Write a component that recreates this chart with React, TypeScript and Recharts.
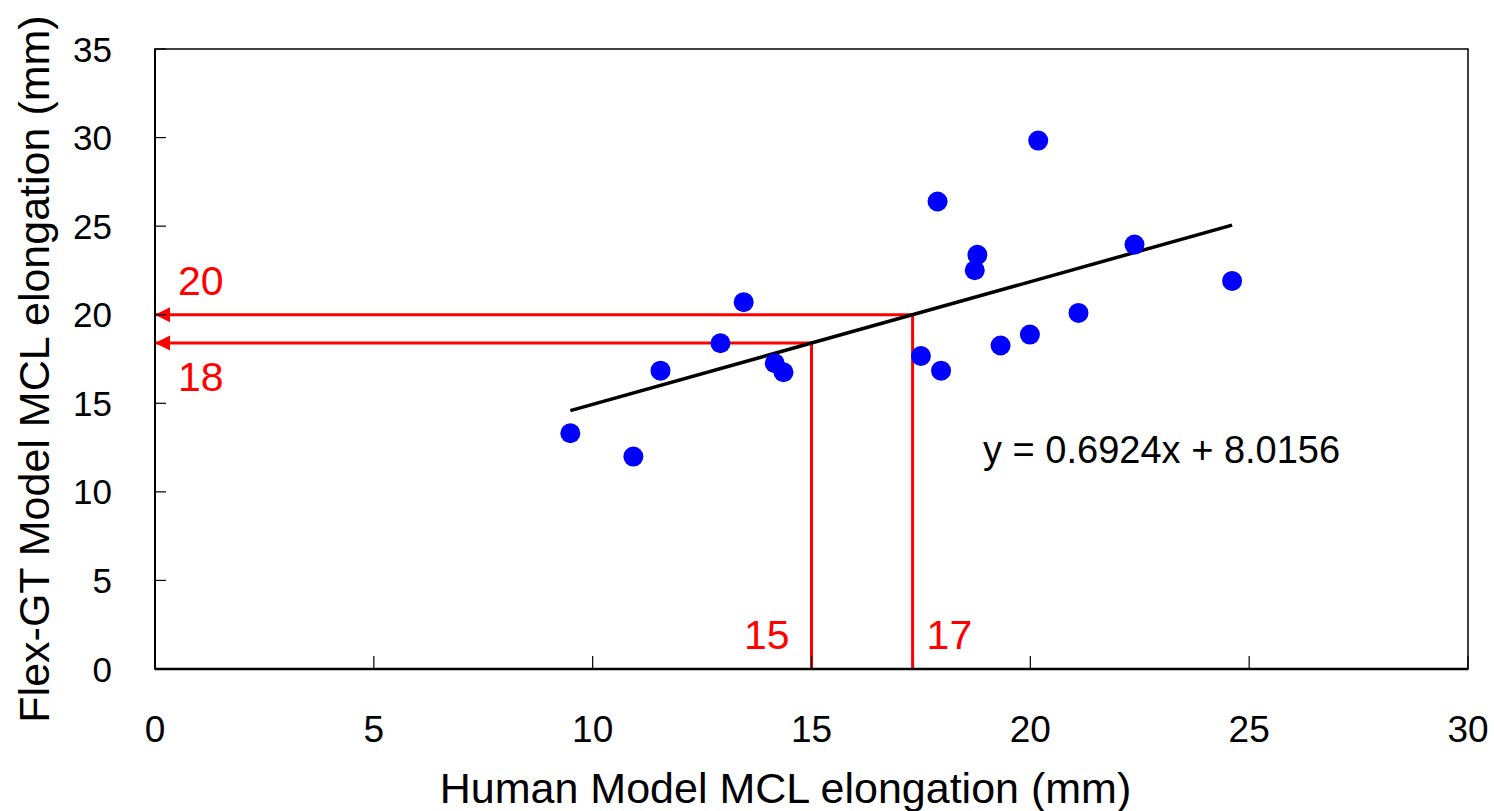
import React from "react";
import {
  ScatterChart,
  Scatter,
  XAxis,
  YAxis,
  ReferenceLine,
  ReferenceArea,
  Label
} from "recharts";

// measured elongations (mm)
const humanElongation = [9.49, 10.93, 11.55, 12.92, 13.45, 14.16, 14.36, 17.5, 17.88, 17.96, 18.79, 18.73, 19.32, 19.99, 20.18, 21.1, 22.38, 24.61];
const flexElongation = [13.31, 11.99, 16.84, 18.39, 20.71, 17.26, 16.75, 17.67, 26.39, 16.84, 23.38, 22.51, 18.26, 18.88, 29.83, 20.1, 23.96, 21.91];

// regression y = 0.6924x + 8.0156
const slope = 0.6924;
const intercept = 8.0156;
const equationText = "y = 0.6924x + 8.0156";
const equationAt = { x: 18.92, y: 12.37 };

// read-off lines on the regression
const readX = [15, 17.31];
const readY = [18.4, 20];
const readXLabels = ["15", "17"];
const readYLabels = ["18", "20"];

const xTicks = [0, 5, 10, 15, 20, 25, 30];
const yTicks = [0, 5, 10, 15, 20, 25, 30, 35];

const FONT = "'Liberation Sans', Arial, sans-serif";
const RED = "#ff0000";

const points = humanElongation.map((x, i) => ({ x, y: flexElongation[i] }));
const xMin = Math.min(...humanElongation);
const xMax = Math.max(...humanElongation);
const trend = [
  { x: xMin, y: slope * xMin + intercept },
  { x: xMax, y: slope * xMax + intercept }
];
const arrowTips = readY.map((y, i) => ({ x: 0, y, label: readYLabels[i], idx: i }));
const footMarks = readX.map((x, i) => ({ x, y: 0, label: readXLabels[i], idx: i }));

const YTick = (p: any) => (
  <g>
    <text x={p.x} y={p.y} textAnchor="end" dominantBaseline="central" fontSize={35} fontFamily={FONT} fill="#000">
      {p.payload.value}
    </text>
    <line x1={p.x + 43} x2={p.x + 54} y1={p.y} y2={p.y} stroke="#000" strokeWidth={1.2} />
  </g>
);

const XTick = (p: any) => (
  <g>
    <text x={p.x} y={p.y + 26} textAnchor="middle" fontSize={37} fontFamily={FONT} fill="#000">
      {p.payload.value}
    </text>
    <line x1={p.x} x2={p.x} y1={p.y - 47} y2={p.y - 60} stroke="#000" strokeWidth={1.2} />
  </g>
);

const Dot = (p: any) => <circle cx={p.cx} cy={p.cy} r={10} fill="#0000ff" />;

const Arrow = (p: any) => (
  <g>
    <path d={`M${p.cx},${p.cy} L${p.cx + 15},${p.cy - 7.5} L${p.cx + 15},${p.cy + 7.5} Z`} fill={RED} />
    <text
      x={p.cx + 23}
      y={p.payload.idx === 0 ? p.cy + 34 : p.cy - 34}
      dominantBaseline="central"
      fontSize={41}
      fontFamily={FONT}
      fill={RED}
    >
      {p.payload.label}
    </text>
  </g>
);

const Foot = (p: any) => (
  <text
    x={p.payload.idx === 0 ? p.cx - 22 : p.cx + 14}
    y={p.cy - 34}
    textAnchor={p.payload.idx === 0 ? "end" : "start"}
    dominantBaseline="central"
    fontSize={41}
    fontFamily={FONT}
    fill={RED}
  >
    {p.payload.label}
  </text>
);

const EqText = (p: any) => (
  <text x={p.cx} y={p.cy} dominantBaseline="central" fontSize={38} fontFamily={FONT} fill="#000">
    {equationText}
  </text>
);

const Nothing = () => <g />;

export default function App() {
  return (
    <div style={{ position: "absolute", left: 0, top: 0, background: "#fff" }}>
      <ScatterChart width={1494} height={811} margin={{ top: 49, right: 26, bottom: 0, left: 0 }}>
        <XAxis
          type="number"
          dataKey="x"
          domain={[0, 30]}
          ticks={xTicks}
          height={142}
          tickSize={0}
          tickMargin={47}
          tickLine={false}
          tick={<XTick />}
          axisLine={{ stroke: "#000", strokeWidth: 2.5 }}
        >
          <Label
            value="Human Model MCL elongation (mm)"
            position="center"
            dx={-26}
            dy={48}
            fontSize={43}
            fontFamily={FONT}
            fill="#000"
          />
        </XAxis>
        <YAxis
          type="number"
          dataKey="y"
          domain={[0, 35]}
          ticks={yTicks}
          width={155}
          tickSize={0}
          tickMargin={43}
          tickLine={false}
          tick={<YTick />}
          axisLine={{ stroke: "#000", strokeWidth: 2 }}
        >
          <Label
            value="Flex-GT Model MCL elongation (mm)"
            position="center"
            angle={-90}
            dx={-44}
            dy={10}
            fontSize={43}
            fontFamily={FONT}
            fill="#000"
          />
        </YAxis>
        <ReferenceArea x1={0} x2={30} y1={0} y2={35} fill="none" stroke="#000" strokeWidth={1.5} />
        {readX.map((x, i) => (
          <ReferenceLine
            key={`h${i}`}
            segment={[{ x: 0, y: readY[i] }, { x, y: readY[i] }]}
            stroke={RED}
            strokeWidth={3}
          />
        ))}
        {readX.map((x, i) => (
          <ReferenceLine
            key={`v${i}`}
            segment={[{ x, y: 0 }, { x, y: readY[i] }]}
            stroke={RED}
            strokeWidth={3}
          />
        ))}
        <Scatter data={trend} line={{ stroke: "#000", strokeWidth: 3.5 }} shape={<Nothing />} isAnimationActive={false} />
        <Scatter data={points} shape={<Dot />} isAnimationActive={false} />
        <Scatter data={arrowTips} shape={<Arrow />} isAnimationActive={false} />
        <Scatter data={footMarks} shape={<Foot />} isAnimationActive={false} />
        <Scatter data={[equationAt]} shape={<EqText />} isAnimationActive={false} />
      </ScatterChart>
    </div>
  );
}
